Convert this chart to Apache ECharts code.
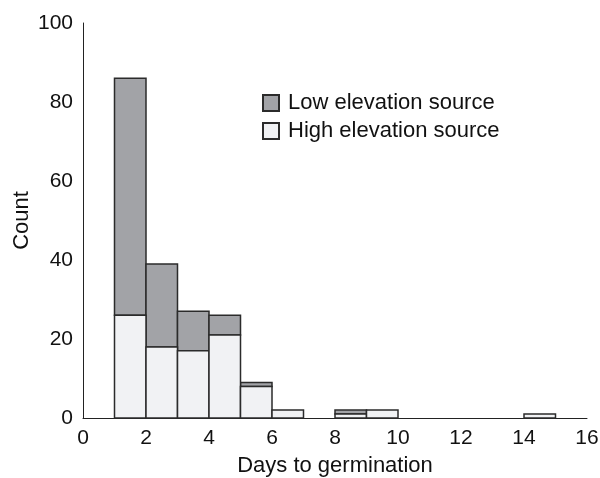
<!DOCTYPE html>
<html>
<head>
<meta charset="utf-8">
<script src="https://cdn.jsdelivr.net/npm/echarts@6/dist/echarts.min.js"></script>
<style>html,body{margin:0;padding:0;background:#fff;}#c{width:600px;height:478px;}</style>
</head>
<body>
<div id="c"></div>
<script>
// Bin start days (each bin is 1 day wide)
var binStarts = [1, 2, 3, 4, 5, 6, 7, 8, 9, 10, 11, 12, 13, 14];
var highCounts = [26, 18, 17, 21, 8, 2, 0, 1, 2, 0, 0, 0, 0, 1];
var lowCounts  = [60, 21, 10, 5, 1, 0, 0, 1, 0, 0, 0, 0, 0, 0];
var xTicks = [0, 2, 4, 6, 8, 10, 12, 14, 16];
var yTicks = [0, 20, 40, 60, 80, 100];

var FONT = '"Liberation Sans", Arial, Helvetica, sans-serif';
var lowColor = '#a2a3a7';
var highColor = '#f1f2f4';
var edge = '#2b2b2b';

function makeData(vals, base) {
  return binStarts.map(function (s, i) {
    return [s, s + 1, base ? base[i] : 0, (base ? base[i] : 0) + vals[i]];
  }).filter(function (d) { return d[3] > d[2]; });
}

function renderRect(params, api) {
  var p0 = api.coord([api.value(0), api.value(2)]);
  var p1 = api.coord([api.value(1), api.value(3)]);
  return {
    type: 'rect',
    shape: { x: p0[0], y: p1[1], width: p1[0] - p0[0], height: p0[1] - p1[1] },
    style: api.style()
  };
}

var chart = echarts.init(document.getElementById('c'), null, { renderer: 'canvas' });
chart.setOption({
  animation: false,
  textStyle: { fontFamily: FONT },
  grid: { left: 83, right: 13, top: 23, bottom: 60, containLabel: false, outerBoundsMode: 'none' },
  legend: {
    orient: 'vertical',
    left: 257,
    top: 87,
    icon: 'rect',
    itemWidth: 16,
    itemHeight: 16,
    itemGap: 6,
    textStyle: { fontSize: 22, color: '#111', fontFamily: FONT, padding: [0, 0, 0, 4] },
    data: ['Low elevation source', 'High elevation source']
  },
  xAxis: {
    type: 'value',
    min: xTicks[0],
    max: xTicks[xTicks.length - 1],
    interval: 2,
    splitLine: { show: false },
    axisTick: { show: false },
    axisLine: { lineStyle: { color: '#222', width: 1 } },
    axisLabel: { fontSize: 21, color: '#111', margin: 10, fontFamily: FONT },
    name: 'Days to germination',
    nameLocation: 'middle',
    nameGap: 37,
    nameMoveOverlap: false,
    nameTextStyle: { fontSize: 22, color: '#111', fontFamily: FONT }
  },
  yAxis: {
    type: 'value',
    min: yTicks[0],
    max: yTicks[yTicks.length - 1],
    interval: 20,
    splitLine: { show: false },
    axisTick: { show: false },
    axisLine: { show: true, lineStyle: { color: '#222', width: 1 } },
    axisLabel: { fontSize: 21, color: '#111', margin: 10, fontFamily: FONT },
    name: 'Count',
    nameLocation: 'middle',
    nameGap: 50,
    nameMoveOverlap: false,
    nameTextStyle: { fontSize: 22, color: '#111', fontFamily: FONT }
  },
  series: [
    {
      name: 'Low elevation source',
      type: 'custom',
      renderItem: renderRect,
      encode: { x: [0, 1], y: [2, 3] },
      itemStyle: { color: lowColor, borderColor: edge, borderWidth: 1.5 },
      data: makeData(lowCounts, highCounts),
      z: 2
    },
    {
      name: 'High elevation source',
      type: 'custom',
      renderItem: renderRect,
      encode: { x: [0, 1], y: [2, 3] },
      itemStyle: { color: highColor, borderColor: edge, borderWidth: 1.5 },
      data: makeData(highCounts, null),
      z: 3
    }
  ]
});
</script>
</body>
</html>
